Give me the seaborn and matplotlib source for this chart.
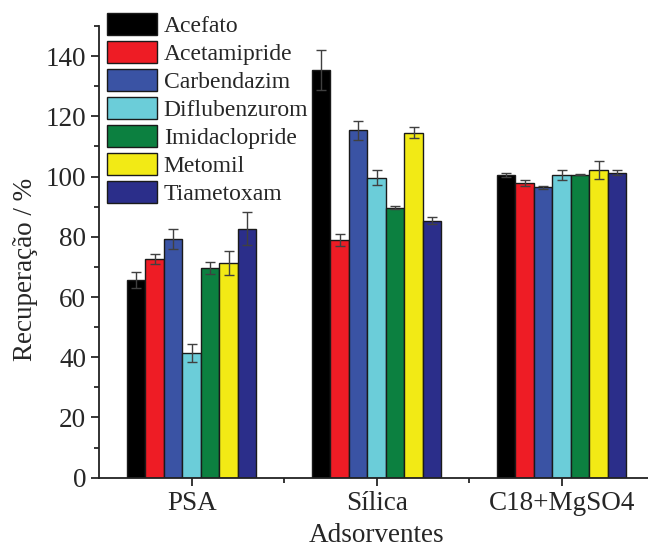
import pandas as pd
import matplotlib.pyplot as plt
import seaborn as sns
from matplotlib.ticker import MultipleLocator, FixedLocator

# dados
adsorventes = ["PSA", "Sílica", "C18+MgSO4"]
pesticidas = ["Acefato", "Acetamipride", "Carbendazim", "Diflubenzurom",
              "Imidaclopride", "Metomil", "Tiametoxam"]
cores = ["#000000", "#ee1c25", "#3a53a4", "#6bcdd9", "#0c8040", "#f2ea15", "#2b2e8a"]

rec_psa = [65.7, 72.6, 79.4, 41.4, 69.5, 71.3, 82.7]
rec_silica = [135.4, 79.0, 115.3, 99.6, 89.7, 114.5, 85.3]
rec_c18 = [100.6, 97.8, 96.5, 100.6, 100.6, 102.2, 101.3]

err_psa = [2.7, 1.7, 3.3, 3.1, 2.0, 4.1, 5.5]
err_silica = [6.6, 2.0, 3.3, 2.5, 0.4, 1.8, 1.2]
err_c18 = [0.6, 0.9, 0.5, 1.6, 0.2, 2.9, 0.8]

rows = []
for ads, rec, err in zip(adsorventes, [rec_psa, rec_silica, rec_c18], [err_psa, err_silica, err_c18]):
    for p, r, e in zip(pesticidas, rec, err):
        rows.append({"Adsorvente": ads, "Pesticida": p, "Rec": r, "Err": e})
df = pd.DataFrame(rows)

sns.set_style("ticks")
plt.rcParams['font.family'] = ['Liberation Serif', 'DejaVu Serif']

fig = plt.figure(figsize=(6.48, 5.49), dpi=100)
ax = fig.add_axes([99.2 / 648, 71.3 / 549, 555 / 648, 451.7 / 549])

sns.barplot(data=df, x="Adsorvente", y="Rec", hue="Pesticida", order=adsorventes,
            hue_order=pesticidas, palette=cores, width=0.70, errorbar=None,
            edgecolor="#1a1a1a", linewidth=1.0, saturation=1, ax=ax)

# barras de erro
for cont, p in zip(ax.containers, pesticidas):
    for bar in cont.patches:
        xc = bar.get_x() + bar.get_width() / 2
        cat = adsorventes[int(round(xc))]
        e = df[(df.Adsorvente == cat) & (df.Pesticida == p)]["Err"].iloc[0]
        ax.errorbar(xc, bar.get_height(), yerr=e, fmt="none", ecolor="#404040",
                    elinewidth=1.0, capsize=3.3, capthick=1.0)

ax.set_xlim(-0.5, 2.5)
ax.set_ylim(0, 150)
ax.yaxis.set_major_locator(FixedLocator([0, 20, 40, 60, 80, 100, 120, 140]))
ax.yaxis.set_minor_locator(MultipleLocator(10))
ax.xaxis.set_minor_locator(FixedLocator([0.5, 1.5]))
ax.tick_params(axis="both", which="major", labelsize=19.5, length=5.8, width=1.3, direction="out")
ax.tick_params(axis="both", which="minor", length=3.6, width=1.3, direction="out")
for s in ["left", "bottom"]:
    ax.spines[s].set_linewidth(1.3)
    ax.spines[s].set_color("#222222")
sns.despine(ax=ax)

ax.set_xlabel("Adsorventes", fontsize=19.5, labelpad=5)
ax.set_ylabel("Recuperação / %", fontsize=19.5)
ax.yaxis.set_label_coords(-0.11, 0.46)

h, l = ax.get_legend_handles_labels()
ax.legend(h, l, loc="upper left", bbox_to_anchor=(107 / 648, 1 - 13 / 549),
          bbox_transform=fig.transFigure, frameon=False, fontsize=17,
          handlelength=2.1, handleheight=1.05, labelspacing=0.17,
          handletextpad=0.3, borderpad=0, borderaxespad=0)

fig.savefig("out.png", dpi=100)
